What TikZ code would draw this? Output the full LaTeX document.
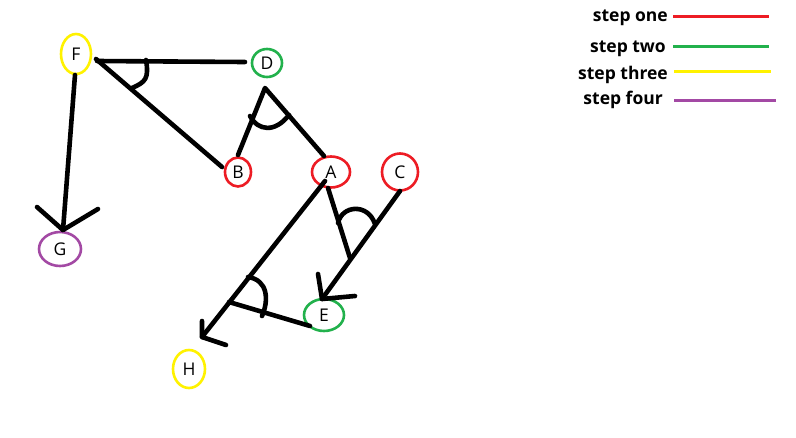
\documentclass[tikz,border=0pt]{standalone}
\usepackage{fontspec}
\setmainfont{Open Sans}
\usetikzlibrary{shapes.geometric}
\definecolor{pred}{HTML}{ED1C24}
\definecolor{pgreen}{HTML}{22B14C}
\definecolor{pyellow}{HTML}{FFF200}
\definecolor{ppurple}{HTML}{A349A4}
\tikzset{
  pt/.style={draw=#1, ellipse, line width=2.6pt, inner sep=0pt, font=\fontsize{17.5}{17.5}\selectfont},
  stroke/.style={line width=4.6pt, line cap=round, line join=round},
  legtext/.style={anchor=east, inner sep=0pt, font=\fontsize{17.5}{18}\selectfont\bfseries},
  legline/.style={line width=3pt, draw=#1},
}
\begin{document}
\begin{tikzpicture}[x=1pt,y=-1pt]
\useasboundingbox (0,0) rectangle (796,437);
\fill[white] (0,0) rectangle (796,437);
% points
\node[pt=pyellow, minimum width=30pt, minimum height=40pt] (F) at (76,54) {F};
\node[pt=pgreen, minimum width=30pt, minimum height=28pt] (D) at (267,63) {D};
\node[pt=pred, minimum width=26pt, minimum height=29pt] (B) at (238,172) {B};
\node[pt=pred, minimum width=38pt, minimum height=31pt] (A) at (331,172) {A};
\node[pt=pred, minimum width=36pt, minimum height=37pt] (C) at (400,172) {C};
\node[pt=pgreen, minimum width=40pt, minimum height=32pt] (E) at (324,315) {E};
\node[pt=ppurple, minimum width=42pt, minimum height=34pt] (G) at (60,249) {G};
\node[pt=pyellow, minimum width=32pt, minimum height=38pt] (H) at (189,369) {H};
% connector end points
\coordinate (fD) at (97,61);
\coordinate (dF) at (245,62);
\coordinate (fB) at (96,59);
\coordinate (bF) at (222,167);
\coordinate (dBot) at (265,88);
\coordinate (bD) at (238,155);
\coordinate (aD) at (324,156);
\coordinate (fG) at (75,75);
\coordinate (gTip) at (63,230);
\coordinate (gArmL) at (37,207);
\coordinate (gArmR) at (98,209);
\coordinate (aH) at (325,181);
\coordinate (hTip) at (202,337);
\coordinate (hArmU) at (202,321);
\coordinate (hArmR) at (226,345);
\coordinate (eFoot) at (310,326);
\coordinate (foot) at (229,302);
\coordinate (aE) at (328,188);
\coordinate (aEend) at (350,258);
\coordinate (cE) at (400,191);
\coordinate (eTip) at (322,299);
\coordinate (eArmU) at (318,274);
\coordinate (eArmR) at (355,296);
% connectors
\draw[stroke] (fD) -- (dF);
\draw[stroke] (fB) -- (bF);
\draw[stroke] (bD) -- (dBot) -- (aD);
\draw[stroke] (fG) -- (gTip);
\draw[stroke] (gArmL) -- (gTip) -- (gArmR);
\draw[stroke] (aH) -- (hTip);
\draw[stroke] (hArmU) -- (hTip) -- (hArmR);
\draw[stroke] (eFoot) -- (foot);
\draw[stroke] (aE) -- (aEend);
\draw[stroke] (cE) -- (eTip);
\draw[stroke] (eArmU) -- (eTip) -- (eArmR);
% angle marks
\draw[stroke] (146,60) .. controls (149,78) and (146,82) .. (132,88);
\draw[stroke] (250,116) .. controls (258,131) and (275,133) .. (289,115);
\draw[stroke] (338,223) .. controls (342,205) and (368,203) .. (375,224);
\draw[stroke] (248,277) .. controls (268,280) and (269,300) .. (262,316);
% legend
\node[legtext] (l1) at (668,18) {step one};
\node[legtext] (l2) at (666,49) {step two};
\node[legtext] (l3) at (668,75) {step three};
\node[legtext] (l4) at (663,100) {step four};
\coordinate (l1e) at (769,16);
\coordinate (l2e) at (769,46);
\coordinate (l3e) at (771,71);
\coordinate (l4e) at (776,100);
\draw[legline=pred] (673,16) -- (l1e);
\draw[legline=pgreen] (673,46) -- (l2e);
\draw[legline=pyellow] (674,71) -- (l3e);
\draw[legline=ppurple] (674,100) -- (l4e);
\end{tikzpicture}
\end{document}
